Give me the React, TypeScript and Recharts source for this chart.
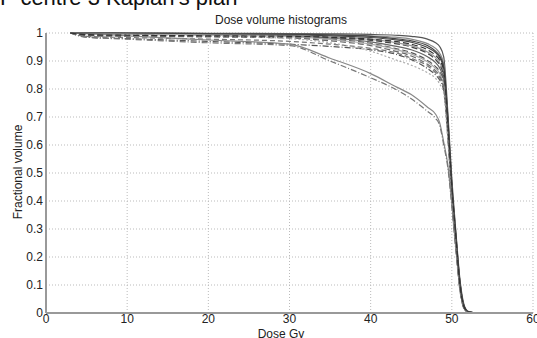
import React from "react";
import { LineChart, Line, XAxis, YAxis, CartesianGrid } from "recharts";

// dose grid (Gy) shared by every curve
const dose = [3, 5, 10, 20, 30, 35, 40, 43, 45, 47, 48, 48.5, 49, 49.5, 50, 50.5, 51, 51.5, 52, 53];

const c1 = [1, 1, 1, 0.999, 0.998, 0.997, 0.995, 0.992, 0.988, 0.978, 0.965, 0.952, 0.915, 0.72, 0.48, 0.29, 0.12, 0.03, 0.006, 0];
const c2 = [1, 1, 0.999, 0.998, 0.996, 0.994, 0.99, 0.985, 0.978, 0.962, 0.945, 0.928, 0.89, 0.7, 0.46, 0.28, 0.11, 0.025, 0.005, 0];
const c3 = [1, 1, 0.999, 0.997, 0.994, 0.99, 0.984, 0.976, 0.967, 0.948, 0.93, 0.912, 0.875, 0.69, 0.45, 0.27, 0.11, 0.025, 0.005, 0];
const c4 = [1, 0.999, 0.998, 0.996, 0.992, 0.986, 0.977, 0.966, 0.955, 0.932, 0.912, 0.893, 0.855, 0.68, 0.44, 0.27, 0.1, 0.02, 0.004, 0];
const c5 = [1, 0.995, 0.993, 0.99, 0.987, 0.983, 0.974, 0.962, 0.95, 0.927, 0.905, 0.886, 0.845, 0.67, 0.44, 0.26, 0.1, 0.02, 0.004, 0];
const c6 = [1, 0.999, 0.997, 0.994, 0.99, 0.982, 0.968, 0.953, 0.94, 0.915, 0.894, 0.875, 0.835, 0.66, 0.43, 0.26, 0.1, 0.02, 0.004, 0];
const c7 = [1, 0.992, 0.99, 0.988, 0.985, 0.978, 0.963, 0.945, 0.93, 0.902, 0.88, 0.862, 0.825, 0.66, 0.43, 0.25, 0.09, 0.02, 0.004, 0];
const c8 = [1, 0.999, 0.997, 0.993, 0.987, 0.977, 0.96, 0.942, 0.925, 0.897, 0.874, 0.855, 0.815, 0.65, 0.42, 0.25, 0.09, 0.018, 0.003, 0];
const c9 = [1, 0.99, 0.988, 0.986, 0.982, 0.972, 0.955, 0.935, 0.918, 0.888, 0.865, 0.846, 0.805, 0.64, 0.42, 0.25, 0.09, 0.018, 0.003, 0];
const c10 = [1, 0.985, 0.98, 0.97, 0.96, 0.952, 0.94, 0.925, 0.905, 0.873, 0.85, 0.832, 0.795, 0.63, 0.41, 0.24, 0.09, 0.018, 0.003, 0];
const c11 = [1, 0.988, 0.984, 0.978, 0.97, 0.96, 0.945, 0.93, 0.91, 0.882, 0.858, 0.84, 0.8, 0.64, 0.42, 0.25, 0.09, 0.02, 0.004, 0];
const c12 = [1, 0.998, 0.995, 0.99, 0.98, 0.965, 0.935, 0.905, 0.885, 0.858, 0.838, 0.818, 0.785, 0.62, 0.41, 0.24, 0.085, 0.018, 0.003, 0];
const c13 = [1, 0.998, 0.99, 0.975, 0.96, 0.91, 0.855, 0.81, 0.78, 0.735, 0.71, 0.68, 0.61, 0.53, 0.39, 0.23, 0.085, 0.016, 0.003, 0];
const c14 = [1, 0.985, 0.978, 0.965, 0.955, 0.9, 0.84, 0.8, 0.765, 0.72, 0.695, 0.67, 0.6, 0.52, 0.38, 0.22, 0.08, 0.015, 0.003, 0];
const c15 = [1, 1, 1, 0.998, 0.996, 0.993, 0.988, 0.98, 0.972, 0.955, 0.935, 0.918, 0.88, 0.7, 0.46, 0.28, 0.11, 0.025, 0.005, 0];
const c16 = [1, 0.994, 0.992, 0.99, 0.988, 0.985, 0.978, 0.97, 0.96, 0.94, 0.92, 0.903, 0.865, 0.68, 0.45, 0.27, 0.1, 0.022, 0.004, 0];

const xTicks = [0, 10, 20, 30, 40, 50, 60];
const yTicks = [0, 0.1, 0.2, 0.3, 0.4, 0.5, 0.6, 0.7, 0.8, 0.9, 1];

const curves = [
  { key: "c1", values: c1, color: "#555", dash: undefined },
  { key: "c2", values: c2, color: "#888", dash: undefined },
  { key: "c3", values: c3, color: "#444", dash: undefined },
  { key: "c4", values: c4, color: "#999", dash: undefined },
  { key: "c5", values: c5, color: "#444", dash: "6 3" },
  { key: "c6", values: c6, color: "#666", dash: undefined },
  { key: "c7", values: c7, color: "#555", dash: "6 3" },
  { key: "c8", values: c8, color: "#aaa", dash: undefined },
  { key: "c9", values: c9, color: "#666", dash: "6 3" },
  { key: "c10", values: c10, color: "#555", dash: "6 2 1 2" },
  { key: "c11", values: c11, color: "#777", dash: "5 3" },
  { key: "c12", values: c12, color: "#aaa", dash: "2 2" },
  { key: "c13", values: c13, color: "#888", dash: undefined },
  { key: "c14", values: c14, color: "#777", dash: "6 2 1 2" },
  { key: "c15", values: c15, color: "#444", dash: undefined },
  { key: "c16", values: c16, color: "#333", dash: "6 3" },
];

const rows = dose.map((d, i) => {
  const row: Record<string, number> = { dose: d };
  curves.forEach((c) => {
    row[c.key] = c.values[i];
  });
  return row;
});

const font = "'Liberation Sans', Arial, sans-serif";
const tick = { fontSize: 12, fill: "#222", fontFamily: font };

export default function App() {
  return (
    <div
      style={{
        position: "absolute",
        left: 0,
        top: 0,
        width: 537,
        height: 338,
        background: "#fff",
        overflow: "hidden",
        fontFamily: font,
      }}
    >
      <div
        style={{
          position: "absolute",
          left: 0,
          top: -13,
          fontSize: 22,
          lineHeight: "22px",
          color: "#111",
          whiteSpace: "nowrap",
        }}
      >
        P centre 3 Kaplan's plan
      </div>
      <div
        style={{
          position: "absolute",
          left: 0,
          width: 562,
          top: 13,
          textAlign: "center",
          fontSize: 12,
          color: "#222",
        }}
      >
        Dose volume histograms
      </div>
      <div
        style={{
          position: "absolute",
          left: 0,
          width: 562,
          top: 327,
          textAlign: "center",
          fontSize: 12,
          lineHeight: "14px",
          color: "#222",
        }}
      >
        Dose Gy
      </div>
      <div
        style={{
          position: "absolute",
          left: 18,
          top: 172,
          transform: "translate(-50%, -50%) rotate(-90deg)",
          fontSize: 12,
          lineHeight: "14px",
          color: "#222",
          whiteSpace: "nowrap",
        }}
      >
        Fractional volume
      </div>
      <LineChart
        width={537}
        height={338}
        data={rows}
        margin={{ top: 33, right: 4, bottom: 5, left: 16 }}
      >
        <CartesianGrid stroke="#bbb" strokeDasharray="1 2" />
        <XAxis
          dataKey="dose"
          type="number"
          domain={[0, 60]}
          ticks={xTicks}
          tick={tick}
          tickLine={false}
          tickSize={1}
          tickMargin={0}
          height={20}
          stroke="#999"
          strokeWidth={2}
          interval={0}
        />
        <YAxis
          type="number"
          domain={[0, 1]}
          ticks={yTicks}
          tick={tick}
          tickLine={false}
          tickSize={3}
          tickMargin={0}
          width={30}
          stroke="#999"
          strokeWidth={2}
          interval={0}
        />
        {curves.map((c) => (
          <Line
            key={c.key}
            dataKey={c.key}
            type="monotone"
            stroke={c.color}
            strokeWidth={1.2}
            strokeDasharray={c.dash}
            dot={false}
            isAnimationActive={false}
          />
        ))}
      </LineChart>
    </div>
  );
}
